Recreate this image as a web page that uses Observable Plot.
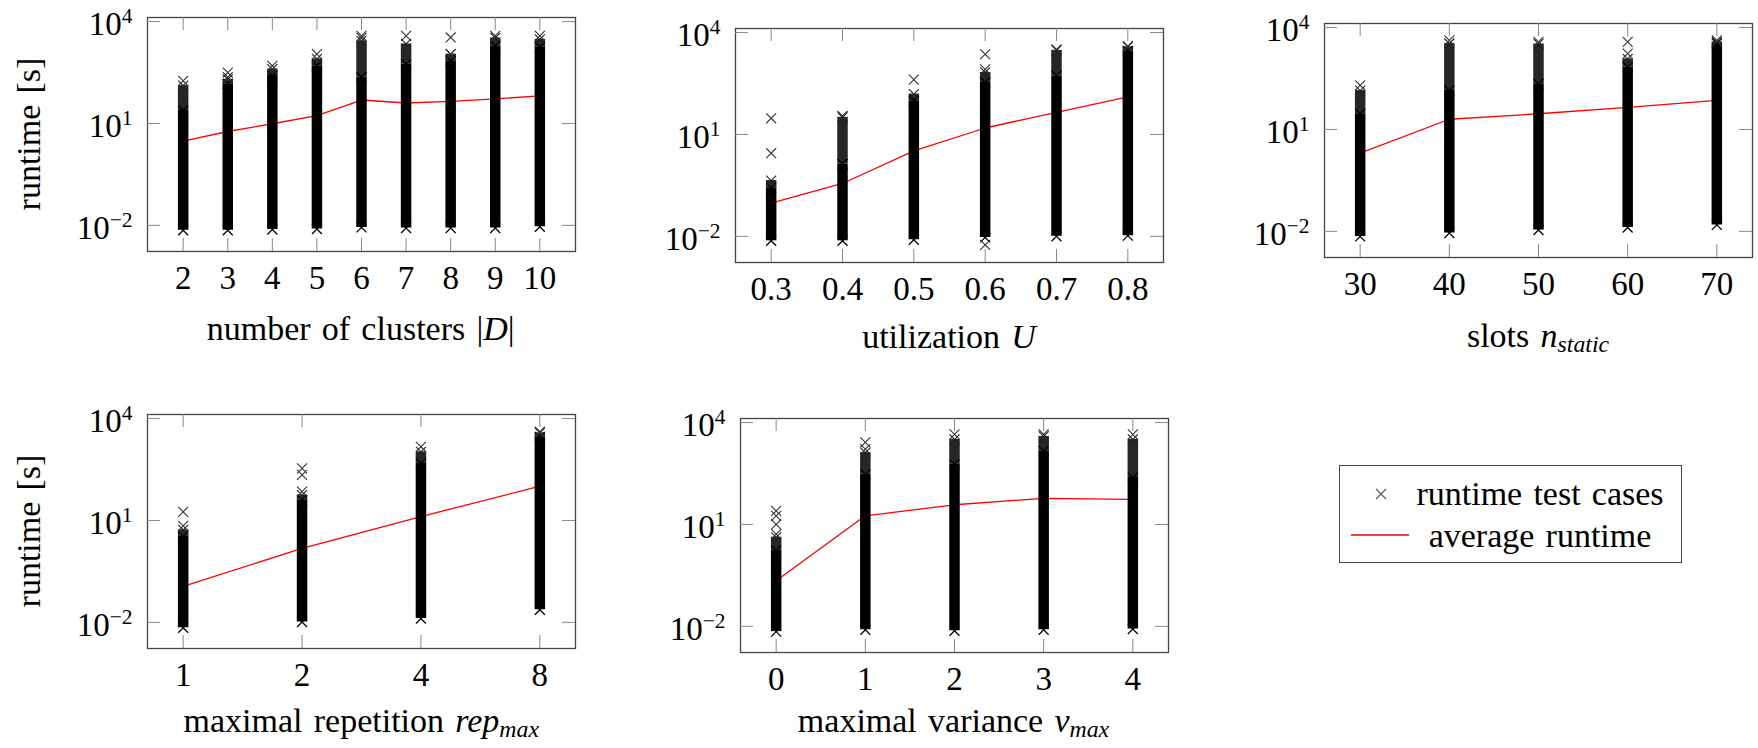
<!DOCTYPE html>
<html><head><meta charset="utf-8">
<script src="https://cdn.jsdelivr.net/npm/d3@7"></script>
<script src="https://cdn.jsdelivr.net/npm/@observablehq/plot@0.6"></script>
<style>
body{margin:0;background:#fff;}
#root{position:relative;width:1758px;height:748px;overflow:hidden;background:#fff;font-family:"Liberation Serif","Times New Roman",serif;color:#000;}
.plot{position:absolute;}
.xl{position:absolute;transform:translate(-50%,-50%);white-space:nowrap;font-size:34px;line-height:1;word-spacing:0.08em;}
.xl sub{font-size:0.7em;vertical-align:-0.2em;line-height:0;}
.yl{position:absolute;transform:translate(-50%,-50%) rotate(-90deg);white-space:nowrap;font-size:34px;line-height:1;word-spacing:0.08em;}
#legend{position:absolute;left:1339px;top:465px;width:341px;height:96px;border:1.5px solid #444;}
#legend .t{position:absolute;transform:translate(-50%,-50%);white-space:nowrap;font-size:34px;line-height:1;word-spacing:0.08em;}
#legend svg{position:absolute;}
</style></head><body><div id="root"></div><script>
// ---------- data ----------
const yTicks = [1e-2, 1e1, 1e4];

const clusters = [2, 3, 4, 5, 6, 7, 8, 9, 10];
const clustersAvg = [3.0, 5.8, 9.8, 17, 49, 40, 45, 53, 65];
const clustersLow = [0.0072, 0.0072, 0.0075, 0.0078, 0.0087, 0.0083, 0.0083, 0.0083, 0.0091];
const clustersSolid = [24, 145, 257, 500, 230, 560, 700, 1950, 1750];
const clustersHalo = [130, 200, 400, 800, 2700, 2200, 1100, 3300, 3000];
const clustersOutliers = [[180], [230, 316], [500], [1100], [3300, 3800], [3800], [1100, 3400], [3800], [3800]];

const util = [0.3, 0.4, 0.5, 0.6, 0.7, 0.8];
const utilAvg = [0.095, 0.36, 3.3, 15.5, 45, 128];
const utilLow = [0.0074, 0.0074, 0.0079, 0.0093, 0.01, 0.0105];
const utilSolid = [0.27, 1.35, 98, 340, 540, 2900];
const utilHalo = [0.44, 32, 155, 670, 3000, 3800];
const utilOutliers = [[2.8, 30], [35], [410], [0.0056, 830, 2300], [3200], [4000]];

const slots = [30, 40, 50, 60, 70];
const slotsAvg = [2.0, 20, 29, 45, 72];
const slotsLow = [0.0071, 0.0089, 0.011, 0.013, 0.0155];
const slotsSolid = [29, 140, 220, 690, 3400];
const slotsHalo = [140, 3400, 3300, 1200, 3800];
const slotsOutliers = [[200], [4200], [3800], [1700, 3800], [4200]];

const rep = [1, 2, 4, 8];
const repAvg = [0.115, 1.5, 13, 102];
const repLow = [0.0069, 0.0102, 0.0129, 0.0234];
const repSolid = [3.4, 40, 480, 2900];
const repHalo = [5.3, 56, 1050, 3800];
const repOutliers = [[6.9, 18], [71, 220, 340], [1480], [4100]];

const variance = [0, 1, 2, 3, 4];
const varAvg = [0.22, 18, 38, 59, 55];
const varLow = [0.0070, 0.0079, 0.0074, 0.0079, 0.0083];
const varSolid = [1.7, 300, 590, 1470, 240];
const varHalo = [4.2, 1300, 3200, 3900, 3200];
const varOutliers = [[5.2, 10, 18, 25], [1650, 2600], [4500], [4500], [4500]];

// ---------- layout ----------
const FW = 428, FH = 234, ML = 147, MR = 6, MT = 10, MB = 56, TL = 13;
const yDomain = [Math.pow(10, -2.77), Math.pow(10, 4.12)];
const FONT = "'Liberation Serif','Times New Roman',serif";
const root = document.getElementById("root");

function panel(c) {
  const rows = c.xs.map((x, i) => ({x, avg: c.avg[i], low: c.low[i], solid: c.solid[i], halo: c.halo[i]}));
  const outs = c.xs.flatMap((x, i) => c.outliers[i].map(v => ({x, v})));
  const xScale = {domain: c.xDomain};
  if (c.xType) { xScale.type = c.xType; xScale.base = c.xBase; }
  const plot = Plot.plot({
    width: ML + FW + MR, height: MT + FH + MB,
    marginLeft: ML, marginRight: MR, marginTop: MT, marginBottom: MB,
    style: {fontFamily: FONT, fontSize: "33px", background: "transparent", overflow: "visible", color: "#000"},
    x: xScale,
    y: {type: "log", domain: yDomain},
    marks: [
      Plot.line(rows, {x: "x", y: "avg", stroke: "#ff0000", strokeWidth: 1.3}),
      Plot.ruleX(rows, {x: "x", y1: "solid", y2: "halo", stroke: "#000", strokeOpacity: 0.85, strokeWidth: 10.5}),
      Plot.ruleX(rows, {x: "x", y1: "low", y2: "solid", stroke: "#000", strokeWidth: 10.5}),
      Plot.dot(rows, {x: "x", y: "low", symbol: "times", r: 4.6, stroke: "#000", strokeWidth: 1.3}),
      Plot.dot(rows, {x: "x", y: "solid", symbol: "times", r: 4.6, stroke: "#000", strokeWidth: 1.3}),
      Plot.dot(rows, {x: "x", y: "halo", symbol: "times", r: 4.6, stroke: "#222", strokeWidth: 1.1}),
      Plot.dot(outs, {x: "x", y: "v", symbol: "times", r: 4.6, stroke: "#333", strokeWidth: 1.1}),
      Plot.frame({stroke: "#444", strokeWidth: 1.3}),
      Plot.tickX(c.xs, {x: d => d, stroke: "#888", insetTop: FH - TL}),
      Plot.tickX(c.xs, {x: d => d, stroke: "#888", insetBottom: FH - TL}),
      Plot.tickY(yTicks, {y: d => d, stroke: "#888", insetRight: FW - TL}),
      Plot.tickY(yTicks, {y: d => d, stroke: "#888", insetLeft: FW - TL}),
      Plot.axisX(c.xs, {tickSize: 0, tickPadding: 14, label: null, tickFormat: d => String(d), fontSize: 33}),
      Plot.axisY(yTicks, {tickSize: 0, tickPadding: 15, label: null, tickFormat: d => String(Math.round(Math.log10(d))), fontSize: 33, dy: 3})
    ]
  });
  plot.querySelectorAll('g[aria-label="y-axis tick label"] text').forEach(t => {
    const e = t.textContent.replace("-", "\u2212");
    t.textContent = "10";
    const s = document.createElementNS("http://www.w3.org/2000/svg", "tspan");
    s.setAttribute("dy", "-0.55em");
    s.setAttribute("style", "font-size:0.65em");
    s.textContent = e;
    t.appendChild(s);
  });
  plot.classList.add("plot");
  plot.style.left = (c.left - ML) + "px";
  plot.style.top = (c.top - MT) + "px";
  root.appendChild(plot);
  const xl = document.createElement("div");
  xl.className = "xl";
  xl.innerHTML = c.label;
  xl.style.left = (c.left + FW / 2) + "px";
  xl.style.top = c.labelY + "px";
  root.appendChild(xl);
  if (c.ylabel) {
    const yl = document.createElement("div");
    yl.className = "yl";
    yl.textContent = c.ylabel;
    yl.style.left = "29px";
    yl.style.top = (c.top + FH / 2) + "px";
    root.appendChild(yl);
  }
}

panel({xs: clusters, avg: clustersAvg, low: clustersLow, solid: clustersSolid, halo: clustersHalo, outliers: clustersOutliers,
  xDomain: [1.2, 10.8], left: 146.7, top: 17.3, labelY: 329, label: "number of clusters |<i>D</i>|", ylabel: "runtime [s]"});
panel({xs: util, avg: utilAvg, low: utilLow, solid: utilSolid, halo: utilHalo, outliers: utilOutliers,
  xDomain: [0.25, 0.85], left: 735, top: 27.7, labelY: 337, label: "utilization <i>U</i>"});
panel({xs: slots, avg: slotsAvg, low: slotsLow, solid: slotsSolid, halo: slotsHalo, outliers: slotsOutliers,
  xDomain: [26, 74], left: 1324, top: 22.7, labelY: 336, label: "slots <i>n</i><sub><i>static</i></sub>"});
panel({xs: rep, avg: repAvg, low: repLow, solid: repSolid, halo: repHalo, outliers: repOutliers,
  xDomain: [Math.pow(2, -0.3), Math.pow(2, 3.3)], xType: "log", xBase: 2, left: 147.3, top: 414.3, labelY: 721,
  label: "maximal repetition <i>rep</i><sub><i>max</i></sub>", ylabel: "runtime [s]"});
panel({xs: variance, avg: varAvg, low: varLow, solid: varSolid, halo: varHalo, outliers: varOutliers,
  xDomain: [-0.4, 4.4], left: 739.5, top: 417.7, labelY: 721, label: "maximal variance <i>v</i><sub><i>max</i></sub>"});

// ---------- legend ----------
const legend = document.createElement("div");
legend.id = "legend";
legend.innerHTML =
  '<svg width="14" height="14" style="left:34px;top:21px"><path d="M2,2L12,12M2,12L12,2" stroke="#555" stroke-width="1.1" fill="none"/></svg>' +
  '<div class="t" style="left:200px;top:28px">runtime test cases</div>' +
  '<svg width="60" height="4" style="left:11px;top:67px"><path d="M0,2H58" stroke="#ff0000" stroke-width="1.3"/></svg>' +
  '<div class="t" style="left:200px;top:70px">average runtime</div>';
root.appendChild(legend);
</script></body></html>
